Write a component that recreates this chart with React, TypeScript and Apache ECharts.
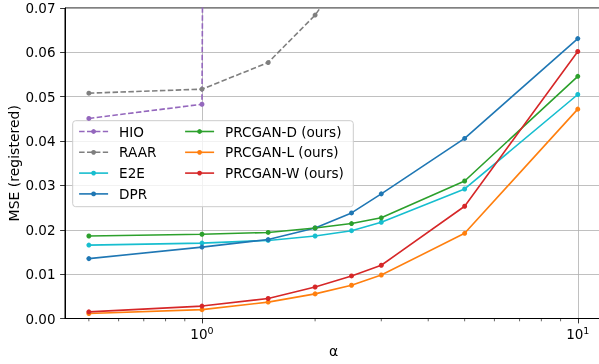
import React, { useEffect, useRef } from "react";
import * as echarts from "echarts";

const alphas = [0.5, 1, 1.5, 2, 2.5, 3, 5, 10];
const hio = [0.0451, 0.0483, 3.1, 3.4, 3.6, 4.0, 4.5, 5.2];
const raar = [0.0508, 0.0517, 0.0577, 0.0684, 0.08, 0.092, 0.14, 0.25];
const e2e = [0.01655, 0.017, 0.0176, 0.0186, 0.0198, 0.0217, 0.0292, 0.0505];
const dpr = [0.0135, 0.0161, 0.0178, 0.0204, 0.0238, 0.0281, 0.0406, 0.0631];
const prcD = [0.0186, 0.019, 0.0194, 0.0204, 0.0214, 0.0227, 0.031, 0.0546];
const prcL = [0.00113, 0.002, 0.0037, 0.00555, 0.0075, 0.0098, 0.0192, 0.0472];
const prcW = [0.0015, 0.0028, 0.0045, 0.0071, 0.0096, 0.012, 0.0253, 0.0602];

const minorTickValues = [0.5, 0.6, 0.7, 0.8, 0.9, 2, 3, 4, 5, 6, 7, 8, 9];
const majorTickValues = [1, 10];

const seriesDefs = [
  { name: "HIO", data: hio, color: "#9467bd", dashed: true },
  { name: "RAAR", data: raar, color: "#7f7f7f", dashed: true },
  { name: "E2E", data: e2e, color: "#17becf", dashed: false },
  { name: "DPR", data: dpr, color: "#1f77b4", dashed: false },
  { name: "PRCGAN-D (ours)", data: prcD, color: "#2ca02c", dashed: false },
  { name: "PRCGAN-L (ours)", data: prcL, color: "#ff7f0e", dashed: false },
  { name: "PRCGAN-W (ours)", data: prcW, color: "#d62728", dashed: false },
];

const FONT = "DejaVu Sans";

export default function App() {
  const ref = useRef<HTMLDivElement>(null);
  useEffect(() => {
    if (!ref.current) return;
    const chart = echarts.init(ref.current, null, { renderer: "svg" });
    const lineSeries = seriesDefs.map((s) => ({
      type: "line",
      name: s.name,
      data: alphas.map((a, i) => [a, s.data[i]]),
      symbol: "circle",
      symbolSize: 5,
      showSymbol: true,
      clip: true,
      color: s.color,
      itemStyle: { color: s.color },
      lineStyle: {
        color: s.color,
        width: 1.6,
        type: s.dashed ? [5.5, 2.4] : "solid",
      },
    }));
    const legendCommon = {
      orient: "vertical",
      top: 124.5,
      padding: 0,
      itemWidth: 29,
      itemHeight: 6,
      itemGap: 6.8,
      lineStyle: { width: 1.6 },
      textStyle: { fontFamily: FONT, fontSize: 13.6, color: "#000", padding: [0, 0, 0, 6] },
      selectedMode: false,
    };
    chart.setOption({
      animation: false,
      textStyle: { fontFamily: FONT },
      grid: {
        left: 65,
        top: 8,
        width: 537,
        bottom: 45.5,
        show: true,
        borderColor: "#000",
        borderWidth: 1,
        containLabel: false,
        outerBoundsMode: "none",
      },
      xAxis: {
        type: "log",
        min: 0.432,
        max: 11.6,
        name: "α",
        nameLocation: "middle",
        nameGap: 25,
        nameMoveOverlap: false,
        nameTextStyle: { fontFamily: FONT, fontSize: 14, color: "#000" },
        axisLine: { lineStyle: { color: "#000", width: 1 } },
        axisTick: { show: true, length: 4.9, lineStyle: { color: "#000", width: 0.8 }, customValues: majorTickValues },
        axisLabel: {
          customValues: majorTickValues,
          margin: 7,
          color: "#000",
          fontFamily: FONT,
          fontSize: 13.5,
          formatter: (v: number) => (Math.abs(v - 1) < 1e-9 ? "10{sup|0}" : Math.abs(v - 10) < 1e-9 ? "10{sup|1}" : ""),
          rich: {
            sup: { fontSize: 9.5, fontFamily: FONT, color: "#000", verticalAlign: "top", padding: [0, 0, 7, 0] },
          },
        },
        splitLine: { show: true, lineStyle: { color: "#b0b0b0", width: 0.8 } },
        minorTick: { show: false },
      },
      yAxis: {
        type: "value",
        min: 0,
        max: 0.07,
        interval: 0.01,
        name: "MSE (registered)",
        nameLocation: "middle",
        nameGap: 44,
        nameMoveOverlap: false,
        nameRotate: 90,
        nameTextStyle: { fontFamily: FONT, fontSize: 14, color: "#000" },
        axisLine: { show: true, lineStyle: { color: "#000", width: 1 } },
        axisTick: { show: true, length: 4.9, lineStyle: { color: "#000", width: 0.8 } },
        axisLabel: {
          margin: 9.5,
          color: "#000",
          fontFamily: FONT,
          fontSize: 13.5,
          formatter: (v: number) => v.toFixed(2),
        },
        splitLine: { show: true, lineStyle: { color: "#b0b0b0", width: 0.8 } },
      },
      legend: [
        { ...legendCommon, left: 78.3, data: seriesDefs.slice(0, 4).map((s) => s.name) },
        { ...legendCommon, left: 184.3, data: seriesDefs.slice(4).map((s) => s.name) },
      ],
      graphic: [
        {
          type: "rect",
          z: 3,
          shape: { x: 72.7, y: 120.7, width: 280.6, height: 86, r: 3 },
          style: { fill: "rgba(255,255,255,0.8)", stroke: "#cccccc", lineWidth: 1 },
        },
      ],
      series: [
        ...lineSeries,
        {
          type: "custom",
          name: "minorTicks",
          clip: false,
          silent: true,
          data: minorTickValues.map((v) => [v, 0]),
          renderItem: (params: any, api: any) => {
            const p = api.coord([api.value(0), 0]);
            return {
              type: "line",
              shape: { x1: p[0], y1: p[1], x2: p[0], y2: p[1] + 2.8 },
              style: { stroke: "#000", lineWidth: 0.6 },
            };
          },
        },
      ],
    });
    return () => chart.dispose();
  }, []);
  return <div ref={ref} style={{ position: "fixed", left: 0, top: 0, width: 599, height: 364 }} />;
}
